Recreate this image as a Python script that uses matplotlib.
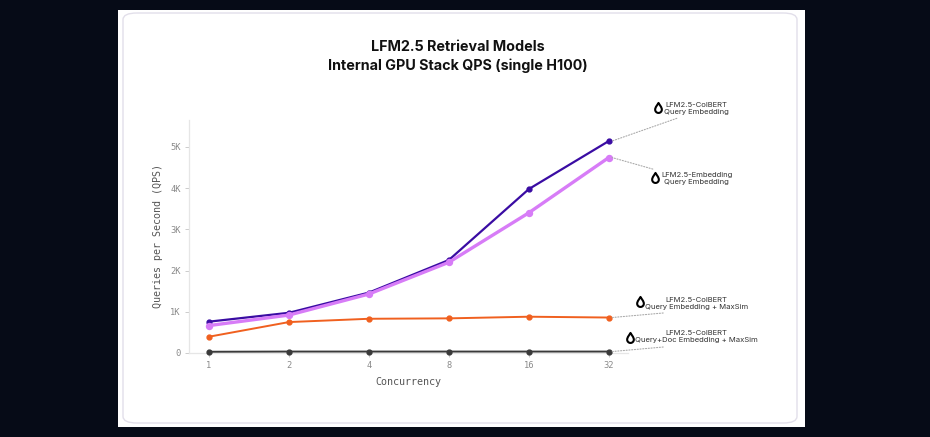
import matplotlib
matplotlib.use("Agg")
import matplotlib.pyplot as plt
from matplotlib.patches import Rectangle, FancyBboxPatch
from matplotlib.path import Path
import numpy as np

concurrency = ["1", "2", "4", "8", "16", "32"]
colbert_query = [760, 975, 1465, 2255, 3975, 5140]
embedding_query = [665, 920, 1430, 2200, 3400, 4740]
colbert_maxsim = [395, 750, 830, 840, 880, 860]
colbert_doc_maxsim = [30, 35, 35, 35, 35, 35]

series = [
    (colbert_query, "#3a0ca3", 1.6, 3.5, "LFM2.5-ColBERT\nQuery Embedding"),
    (embedding_query, "#d77cf7", 2.4, 4.3, "LFM2.5-Embedding\nQuery Embedding"),
    (colbert_maxsim, "#f0601f", 1.4, 3.5, "LFM2.5-ColBERT\nQuery Embedding + MaxSim"),
    (colbert_doc_maxsim, "#3a3a3a", 1.4, 3.5, "LFM2.5-ColBERT\nQuery+Doc Embedding + MaxSim"),
]

# annotation layout in data units: text centre, icon centre, leader end
text_pos = [(6.1, 5917), (6.1, 4243), (6.1, 1200), (6.1, 400)]
icon_pos = [(5.61, 5940), (5.575, 4243), (5.39, 1237), (5.26, 364)]
leader_end = [(5.85, 5690), (5.55, 4460), (5.68, 970), (5.68, 145)]

# drop glyph used as marker
drop = Path(
    [(0, 1.0), (0.15, 0.7), (0.6, 0.25), (0.6, -0.2),
     (0.6, -0.55), (0.33, -0.8), (0, -0.8),
     (-0.33, -0.8), (-0.6, -0.55), (-0.6, -0.2),
     (-0.6, 0.25), (-0.15, 0.7), (0, 1.0), (0, 1.0)],
    [Path.MOVETO, Path.CURVE4, Path.CURVE4, Path.CURVE4,
     Path.CURVE4, Path.CURVE4, Path.CURVE4,
     Path.CURVE4, Path.CURVE4, Path.CURVE4,
     Path.CURVE4, Path.CURVE4, Path.CURVE4, Path.CLOSEPOLY],
)

fig = plt.figure(figsize=(9.3, 4.37), dpi=100)
fig.patch.set_facecolor("#060b17")

W, H = 930.0, 437.0
fig.patches.append(Rectangle((118 / W, 10 / H), (805 - 118) / W, (427 - 10) / H,
                             transform=fig.transFigure, facecolor="white",
                             edgecolor="none", zorder=-2))
fig.patches.append(FancyBboxPatch((123 / W, 14 / H), (797 - 123) / W, (424 - 14) / H,
                                  boxstyle="round,pad=0,rounding_size=0.015",
                                  transform=fig.transFigure, facecolor="none",
                                  edgecolor="#e2dfea", linewidth=1.0, zorder=-1))

ax = fig.add_axes([189 / W, 84 / H, (628 - 189) / W, (353 - 120) / H])
ax.set_zorder(2)
ax.patch.set_alpha(0)

x = np.arange(len(concurrency))
for vals, color, lw, ms, label in series:
    ax.plot(x, vals, color=color, linewidth=lw, marker="o", markersize=ms,
            zorder=3, clip_on=False)

for (vals, color, lw, ms, label), tp, ip, le in zip(series, text_pos, icon_pos, leader_end):
    ax.annotate("", xy=(x[-1] + 0.04, vals[-1]), xytext=le,
                arrowprops=dict(arrowstyle="-", linestyle=(0, (1, 1.5)),
                                color="#aaaaaa", linewidth=0.8,
                                shrinkA=0, shrinkB=0),
                annotation_clip=False)
    ax.text(tp[0], tp[1], label, ha="center", va="center", fontsize=5.5,
            family="Inter", color="#333333", linespacing=1.2, clip_on=False)
    ax.plot(ip[0], ip[1], marker=drop, markersize=8,
            markerfacecolor="white", markeredgecolor="black",
            markeredgewidth=1.5, clip_on=False, zorder=4)

ax.set_xlim(-0.25, 5.24)
ax.set_ylim(0, 5650)
ax.set_xticks(x)
ax.set_xticklabels(concurrency)
ax.set_yticks([0, 1000, 2000, 3000, 4000, 5000])
ax.set_yticklabels(["0", "1K", "2K", "3K", "4K", "5K"])

for sp in ["top", "right"]:
    ax.spines[sp].set_visible(False)
for sp in ["left", "bottom"]:
    ax.spines[sp].set_color("#e6e6e6")
    ax.spines[sp].set_linewidth(0.9)
ax.tick_params(axis="both", length=3, width=0.7, color="#cccccc",
               labelsize=6.3, labelcolor="#8a8a8a", pad=3)
for lab in ax.get_xticklabels() + ax.get_yticklabels():
    lab.set_family("DejaVu Sans Mono")

ax.set_xlabel("Concurrency", family="DejaVu Sans Mono", fontsize=7.2,
              color="#555555", labelpad=5)
ax.set_ylabel("Queries per Second (QPS)", family="DejaVu Sans Mono", fontsize=7.2,
              color="#555555", labelpad=5)

fig.text(458 / W, 1 - 47 / H, "LFM2.5 Retrieval Models", ha="center", va="center",
         fontsize=10.3, fontweight="bold", family="Inter", color="#111111")
fig.text(458 / W, 1 - 66 / H, "Internal GPU Stack QPS (single H100)", ha="center",
         va="center", fontsize=10.3, fontweight="bold", family="Inter", color="#111111")

fig.savefig("out.png", dpi=100, facecolor=fig.get_facecolor())
